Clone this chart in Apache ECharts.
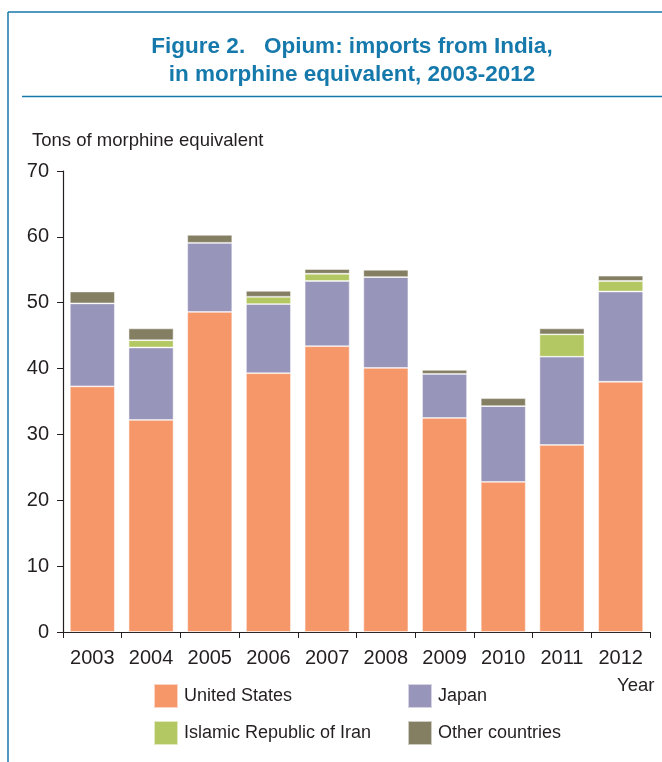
<!DOCTYPE html>
<html>
<head>
<meta charset="utf-8">
<script src="https://cdn.jsdelivr.net/npm/echarts@6/dist/echarts.min.js"></script>
<style>
html,body{margin:0;padding:0;background:#fff;}
#chart{width:662px;height:762px;}
</style>
</head>
<body>
<div id="chart"></div>
<script>
var years = ['2003','2004','2005','2006','2007','2008','2009','2010','2011','2012'];
var unitedStates = [37.3, 32.2, 48.6, 39.3, 43.4, 40.1, 32.5, 22.8, 28.4, 38.0];
var japan        = [12.6, 11.0, 10.5, 10.5,  9.9, 13.8,  6.7, 11.5, 13.4, 13.7];
var iran         = [ 0.0,  1.1,  0.0,  1.1,  1.1,  0.0,  0.0,  0.0,  3.4,  1.6];
var others       = [ 1.8,  1.8,  1.2,  0.9,  0.7,  1.1,  0.6,  1.2,  0.9,  0.8];
var yTicks = [0, 10, 20, 30, 40, 50, 60, 70];

var FONT = "'Liberation Sans', Arial, sans-serif";
var BLUE = '#1679AC';
var TXT = '#231F20';

var chart = echarts.init(document.getElementById('chart'), null, {renderer: 'canvas'});

function bar(name, data, color) {
  return {
    name: name, type: 'bar', stack: 'total', data: data,
    barWidth: 45,
    itemStyle: {color: color, borderColor: 'rgba(255,255,255,0.6)', borderWidth: 0.8},
    emphasis: {disabled: true}
  };
}

chart.setOption({
  animation: false,
  backgroundColor: '#fff',
  title: [
    {
      text: 'Figure 2.   Opium: imports from India,\nin morphine equivalent, 2003-2012',
      left: 347, top: 28, textAlign: 'center',
      textStyle: {fontFamily: FONT, fontWeight: 'bold', fontSize: 22.5, color: BLUE, lineHeight: 28}
    },
    {
      text: 'Tons of morphine equivalent',
      left: 27, top: 126,
      textStyle: {fontFamily: FONT, fontWeight: 'normal', fontSize: 18.5, color: TXT}
    },
    {
      text: 'Year',
      left: 612, top: 671,
      textStyle: {fontFamily: FONT, fontWeight: 'normal', fontSize: 18.5, color: TXT}
    }
  ],
  graphic: [
    {type: 'line', shape: {x1: 8, y1: 12, x2: 8, y2: 762}, style: {stroke: BLUE, lineWidth: 1.5}},
    {type: 'line', shape: {x1: 8, y1: 12, x2: 662, y2: 12}, style: {stroke: BLUE, lineWidth: 1.5}},
    {type: 'line', shape: {x1: 22, y1: 96.5, x2: 662, y2: 96.5}, style: {stroke: BLUE, lineWidth: 1.5}}
  ],
  legend: [
    {
      data: ['United States', 'Islamic Republic of Iran'],
      orient: 'vertical', left: 153, top: 683, padding: 0,
      itemWidth: 24, itemHeight: 24, itemGap: 11, icon: 'rect',
      textStyle: {fontFamily: FONT, fontSize: 18, color: TXT, lineHeight: 24, padding: [0,0,0,1]},
      selectedMode: false
    },
    {
      data: ['Japan', 'Other countries'],
      orient: 'vertical', left: 407, top: 683, padding: 0,
      itemWidth: 24, itemHeight: 24, itemGap: 11, icon: 'rect',
      textStyle: {fontFamily: FONT, fontSize: 18, color: TXT, lineHeight: 24, padding: [0,0,0,1]},
      selectedMode: false
    }
  ],
  grid: {left: 63, right: 12, top: 171, bottom: 130, containLabel: false},
  xAxis: {
    type: 'category', data: years,
    axisLine: {lineStyle: {color: TXT, width: 1.2}},
    axisTick: {show: true, alignWithLabel: false, length: 6, lineStyle: {color: TXT}},
    axisLabel: {fontFamily: FONT, fontSize: 20, color: TXT, margin: 16}
  },
  yAxis: {
    type: 'value', min: yTicks[0], max: yTicks[yTicks.length-1], interval: 10,
    splitLine: {show: false},
    axisLine: {show: true, lineStyle: {color: TXT, width: 1.2}},
    axisTick: {show: true, inside: false, length: 6, lineStyle: {color: TXT}},
    axisLabel: {fontFamily: FONT, fontSize: 20, color: TXT, margin: 14}
  },
  series: [
    bar('United States', unitedStates, '#F6976A'),
    bar('Japan', japan, '#9895BA'),
    bar('Islamic Republic of Iran', iran, '#B3C862'),
    bar('Other countries', others, '#847F63')
  ]
});
</script>
</body>
</html>
